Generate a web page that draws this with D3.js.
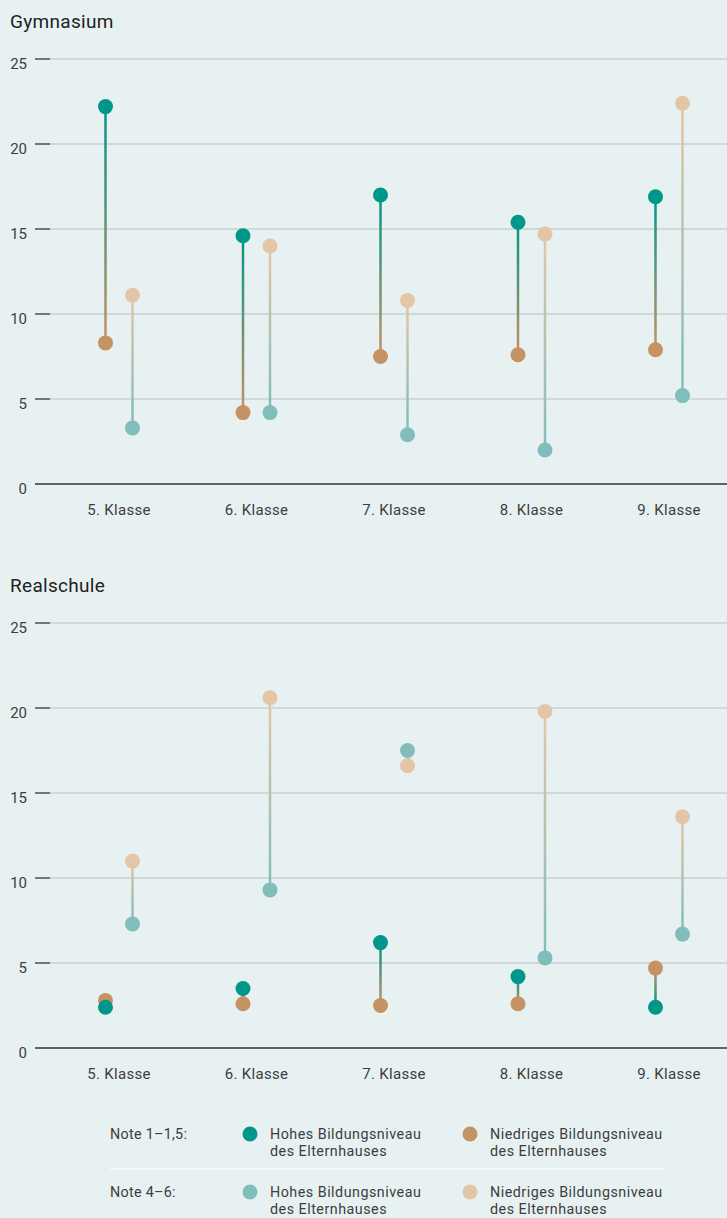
<!DOCTYPE html>
<html><head><meta charset="utf-8">
<script src="https://cdn.jsdelivr.net/npm/d3@7"></script>
<style>
html,body{margin:0;padding:0;background:#e8f1f1;}
svg{display:block;font-family:Roboto,"Open Sans",sans-serif;}
</style></head>
<body><svg id="c" width="727" height="1218"></svg>
<script>
const categories = ["5. Klasse","6. Klasse","7. Klasse","8. Klasse","9. Klasse"];
const yTicks = [0,5,10,15,20,25];
// Gymnasium
const gymHighGood = [22.2,14.6,17.0,15.4,16.9];
const gymLowGood  = [8.3,4.2,7.5,7.6,7.9];
const gymHighBad  = [3.3,4.2,2.9,2.0,5.2];
const gymLowBad   = [11.1,14.0,10.8,14.7,22.4];
// Realschule
const realHighGood = [2.4,3.5,6.2,4.2,2.4];
const realLowGood  = [2.8,2.6,2.5,2.6,4.7];
const realHighBad  = [7.3,9.3,17.5,5.3,6.7];
const realLowBad   = [11.0,20.6,16.6,19.8,13.6];

const legendRows = ["Note 1–1,5:","Note 4–6:"];
const legendItems = ["Hohes Bildungsniveau","Niedriges Bildungsniveau"];
const legendSub = "des Elternhauses";

const C = {hg:"#00968a", lg:"#c49263", hb:"#80bdbb", lb:"#e3c6a7"};
const TXT = "#3d3d3d";
const svg = d3.select("#c");
const x = d3.scalePoint().domain(categories).range([119,669]);
const off = 13.5;

let gid = 0;
function panel(title, top, hg, lg, hb, lb){
  const y = d3.scaleLinear().domain([0,25]).range([top+425, top]);
  svg.append("text").attr("x",10).attr("y",top-31).attr("font-size",19).attr("fill","#222").attr("letter-spacing",0.3).text(title);
  const g = svg.append("g");
  yTicks.forEach(t=>{
    if(t>0){
      g.append("line").attr("x1",50).attr("x2",727).attr("y1",y(t)).attr("y2",y(t)).attr("stroke","#c9d0d0").attr("stroke-width",1.3);
    }
    g.append("line").attr("x1",35).attr("x2",t===0?727:50).attr("y1",y(t)).attr("y2",y(t)).attr("stroke","#333").attr("stroke-width",1.3);
    g.append("text").attr("x",27).attr("y",y(t)+10).attr("text-anchor","end").attr("font-size",15).attr("fill",TXT).text(t);
  });
  categories.forEach(c=>{
    g.append("text").attr("x",x(c)).attr("y",top+456).attr("font-size",15).attr("fill",TXT)
     .attr("letter-spacing",0.3).attr("text-anchor","middle").text(c);
  });
  const defs = svg.append("defs");
  function pair(vals1, vals2, c1, c2, dx){
    categories.forEach((c,i)=>{
      const a=vals1[i], b=vals2[i];
      const xa = x(c)+dx;
      const id = "g"+(gid++);
      const gr = defs.append("linearGradient").attr("id",id).attr("gradientUnits","userSpaceOnUse")
        .attr("x1",xa).attr("x2",xa).attr("y1",y(a)).attr("y2",y(b));
      gr.append("stop").attr("offset","0%").attr("stop-color",c1);
      gr.append("stop").attr("offset","100%").attr("stop-color",c2);
      g.append("line").attr("x1",xa).attr("x2",xa+0.001).attr("y1",y(a)).attr("y2",y(b))
        .attr("stroke","url(#"+id+")").attr("stroke-width",2.5);
      g.append("circle").attr("cx",xa).attr("cy",y(b)).attr("r",7.5).attr("fill",c2);
      g.append("circle").attr("cx",xa).attr("cy",y(a)).attr("r",7.5).attr("fill",c1);
    });
  }
  pair(hg, lg, C.hg, C.lg, -off);
  pair(lb, hb, C.lb, C.hb, off);
}
panel("Gymnasium", 59, gymHighGood, gymLowGood, gymHighBad, gymLowBad);
panel("Realschule", 623, realHighGood, realLowGood, realHighBad, realLowBad);

// legend
const lg = svg.append("g");
const rowY = [1134, 1192];
const colX = [250, 470];
const cols = [[C.hg, C.lg],[C.hb, C.lb]];
legendRows.forEach((r,ri)=>{
  lg.append("text").attr("x",110).attr("y",rowY[ri]+5).attr("font-size",14.3).attr("letter-spacing",0.3).attr("fill",TXT).text(r);
  legendItems.forEach((it,ci)=>{
    lg.append("circle").attr("cx",colX[ci]).attr("cy",rowY[ri]).attr("r",7.5).attr("fill",cols[ri][ci]);
    const t = lg.append("text").attr("x",colX[ci]+20).attr("y",rowY[ri]+5).attr("font-size",14.3)
      .attr("letter-spacing",0.5).attr("fill",TXT);
    t.append("tspan").attr("x",colX[ci]+20).attr("dy",0).text(it);
    t.append("tspan").attr("x",colX[ci]+20).attr("dy",17).text(legendSub);
  });
});
lg.append("line").attr("x1",110).attr("x2",663).attr("y1",1169).attr("y2",1169).attr("stroke","#ffffff").attr("stroke-width",1);
</script></body></html>
